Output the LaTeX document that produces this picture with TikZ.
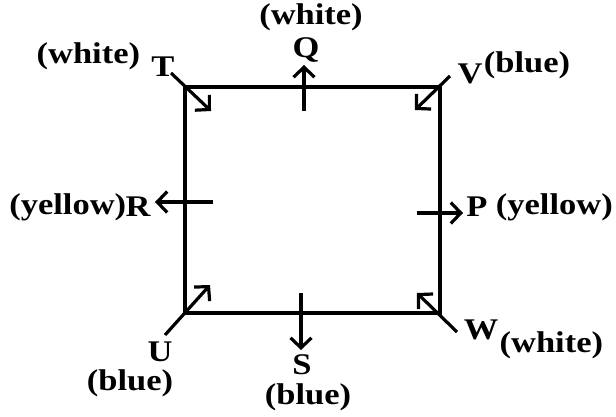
\documentclass[tikz,border=0pt]{standalone}
\usepackage{fontspec}
\setmainfont{Liberation Serif}[FakeStretch=1.15]
\usetikzlibrary{arrows.meta,positioning}

\begin{document}
\begin{tikzpicture}[
  x=1pt, y=-1pt,
  lbl/.style={inner sep=0pt, font=\bfseries\fontsize{30}{32}\selectfont},
  edge/.style={line width=3.6pt, line cap=rect},
  arr/.style={line width=3.2pt, -{Straight Barb[length=10pt, width=21pt, line width=3.2pt]}},
  node distance=4pt
]
\useasboundingbox (0,0) rectangle (616,416);

% corners of the square
\coordinate (tc) at (185,87);
\coordinate (vc) at (440,87);
\coordinate (wc) at (440,313);
\coordinate (uc) at (185,313);
\draw[edge] (tc) -- (vc) -- (wc) -- (uc) -- cycle;

% arrow ends
\coordinate (t1) at (171,73);  \coordinate (t2) at (211,111);
\coordinate (v1) at (450,76);  \coordinate (v2) at (415,110);
\coordinate (u1) at (165,335); \coordinate (u2) at (210,285);
\coordinate (w1) at (457,332); \coordinate (w2) at (417,293);
\coordinate (q1) at (304,111); \coordinate (q2) at (304,65);
\coordinate (s1) at (301,293); \coordinate (s2) at (301,350);
\coordinate (r1) at (213,202); \coordinate (r2) at (155,202);
\coordinate (p1) at (417,213); \coordinate (p2) at (463,213);

\draw[arr] (t1) -- (t2);
\draw[arr] (v1) -- (v2);
\draw[arr] (u1) -- (u2);
\draw[arr] (w1) -- (w2);
\draw[arr] (q1) -- (q2);
\draw[arr] (s1) -- (s2);
\draw[arr] (r1) -- (r2);
\draw[arr] (p1) -- (p2);

% letters
\node[lbl] (T) at (163,67) {T};
\node[lbl] (Q) at (306,50) {Q};
\node[lbl] (V) at (470,74) {V};
\node[lbl] (R) at (138,207) {R};
\node[lbl] (P) at (477,207) {P};
\node[lbl] (U) at (160,352) {U};
\node[lbl] (S) at (302,365) {S};
\node[lbl] (W) at (481,330) {W};

% colours
\node[lbl, left=11pt of T, yshift=11pt] (Tc) {(white)};
\node[lbl, above=6pt of Q, xshift=5pt] (Qc) {(white)};
\node[lbl, right=1pt of V, yshift=9pt] (Vc) {(blue)};
\node[lbl, left=-1pt of R] (Rc) {(yellow)};
\node[lbl, right=8pt of P] (Pc) {(yellow)};
\node[lbl, below=7pt of U, xshift=-30pt] (Uc) {(blue)};
\node[lbl, below=8pt of S, xshift=6pt] (Sc) {(blue)};
\node[lbl, right=1pt of W, yshift=-15pt] (Wc) {(white)};
\end{tikzpicture}
\end{document}
